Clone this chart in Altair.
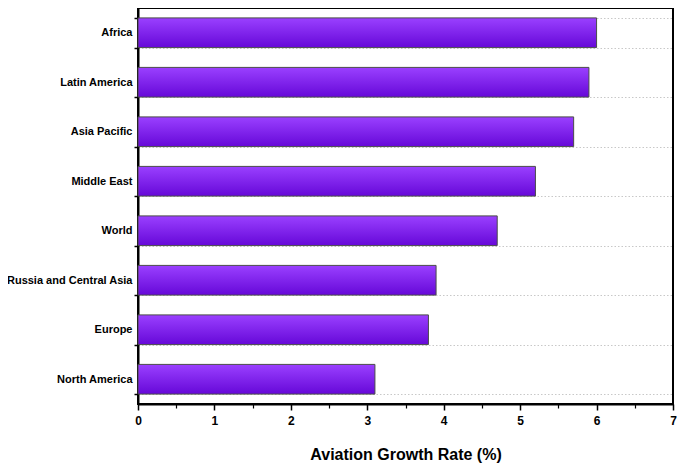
import altair as alt
import pandas as pd

regions = ["Africa", "Latin America", "Asia Pacific", "Middle East", "World",
           "Russia and Central Asia", "Europe", "North America"]
rates = [6.0, 5.9, 5.7, 5.2, 4.7, 3.9, 3.8, 3.1]
major_ticks = [0, 1, 2, 3, 4, 5, 6, 7]
minor_ticks = [0.5, 1.5, 2.5, 3.5, 4.5, 5.5, 6.5]

df = pd.DataFrame({"region": regions, "rate": rates})

FONT = "Liberation Sans, Arial, sans-serif"

xscale = alt.Scale(domain=[0, 7], nice=False)
yscale = alt.Scale(domain=regions, paddingInner=0.4, paddingOuter=0.2)

bars = alt.Chart(df).mark_bar(
    fill=alt.Gradient(
        gradient="linear",
        stops=[alt.GradientStop(color="#9A40FF", offset=0),
               alt.GradientStop(color="#6608D8", offset=1)],
        x1=0, x2=0, y1=0, y2=1,
    ),
    stroke="#4a4a4a",
    strokeWidth=1,
).encode(
    x=alt.X("rate:Q", scale=xscale,
            axis=alt.Axis(values=major_ticks, title="Aviation Growth Rate (%)",
                          grid=False, tickSize=6, tickWidth=1.5, tickColor="black",
                          domainColor="black", domainWidth=2, labelFlush=False,
                          labelFont=FONT, labelFontSize=12, labelFontWeight="bold",
                          labelColor="black", labelPadding=5,
                          titleFont=FONT, titleFontSize=16, titleFontWeight="bold",
                          titleColor="black", titlePadding=20)),
    y=alt.Y("region:N", scale=yscale, sort=regions,
            axis=alt.Axis(title=None, tickBand="extent", grid=True,
                          gridDash=[1.5, 2], gridColor="#c8c8c8", gridWidth=1,
                          tickSize=4, tickWidth=1.5, tickColor="black",
                          domainColor="black", domainWidth=2,
                          labelFont=FONT, labelFontSize=11, labelFontWeight="bold",
                          labelColor="black", labelPadding=2)),
)

minor = alt.Chart(pd.DataFrame({"v": minor_ticks})).mark_tick(opacity=0).encode(
    x=alt.X("v:Q", scale=xscale,
            axis=alt.Axis(values=minor_ticks, orient="bottom", labels=False,
                          domain=False, grid=False, title=None,
                          tickSize=4, tickWidth=1.2, tickColor="black")),
)

chart = alt.layer(bars, minor).resolve_axis(x="independent").properties(
    width=535, height=396,
    autosize=alt.AutoSizeParams(type="none"),
    padding={"left": 130, "top": 0, "right": 4, "bottom": 60},
).configure_view(stroke="black", strokeWidth=2)

chart.save("out.html", embed_options={"renderer": "svg", "actions": False})
